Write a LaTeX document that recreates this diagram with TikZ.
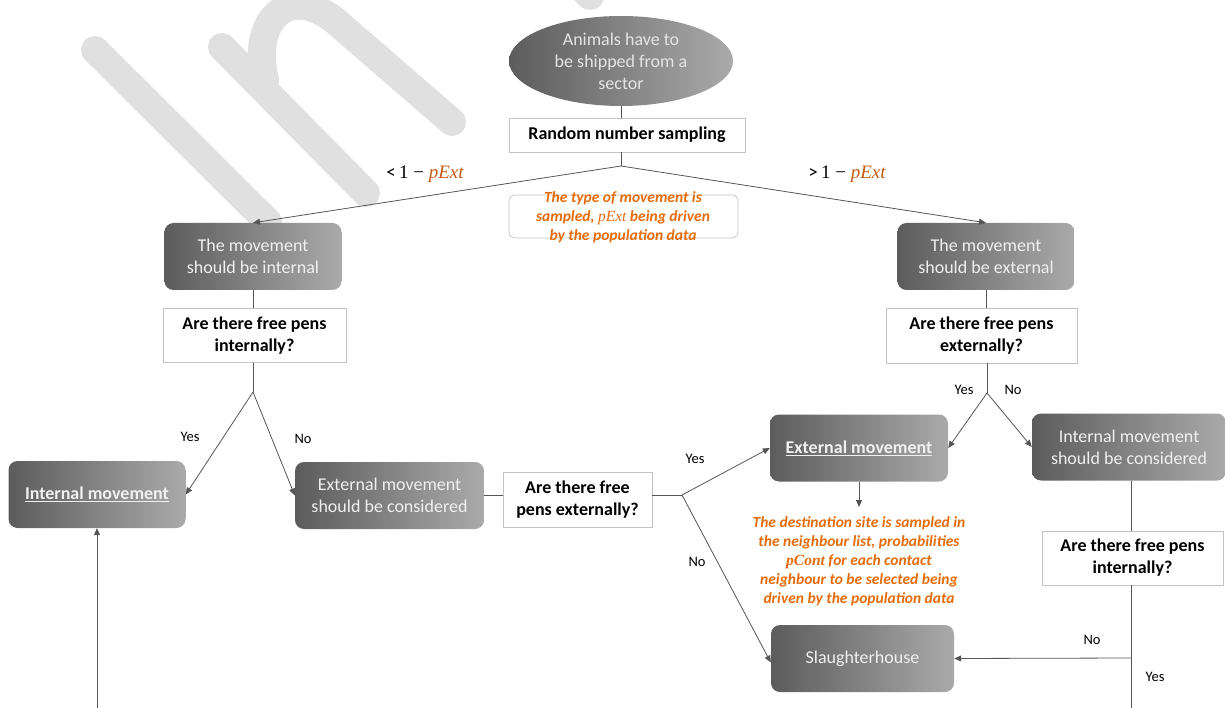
\documentclass[tikz,border=0pt]{standalone}
\usepackage{fontspec}
\setmainfont{Carlito}
\newfontfamily\serifm{Liberation Serif}
\usetikzlibrary{arrows.meta,shapes.geometric}
\definecolor{gdark}{RGB}{92,92,92}
\definecolor{glight}{RGB}{170,170,170}
\definecolor{gtext}{RGB}{240,240,240}
\definecolor{wm}{RGB}{224,224,224}
\definecolor{lineg}{RGB}{85,85,85}
\definecolor{boxline}{RGB}{195,195,195}
\definecolor{orng}{RGB}{228,108,10}
\definecolor{lblor}{RGB}{197,90,17}
\tikzset{
  gbox/.style={rounded corners=9pt, left color=gdark, right color=glight, draw=none,
    text=gtext, font=\fontsize{18}{22}\selectfont, align=center, inner sep=0pt},
  qbox/.style={draw=boxline, line width=0.8pt, fill=white, text=black,
    font=\bfseries\fontsize{18}{22}\selectfont, align=center, inner sep=0pt},
  conn/.style={draw=lineg, line width=0.8pt},
  arr/.style={conn, -{Triangle[length=7pt,width=6pt]}},
  yn/.style={font=\fontsize{14.5}{17}\selectfont, text=black, inner sep=0pt},
  otext/.style={font=\bfseries\itshape\fontsize{15.5}{19}\selectfont, text=orng, align=center, inner sep=0pt},
  wmstroke/.style={draw=wm, line width=28pt, line cap=round, line join=round}
}
\begin{document}
\begin{tikzpicture}[x=1pt,y=-1pt]
\useasboundingbox (0,0) rectangle (1225,708);
% watermark
\draw[wmstroke] (95,50) -- (268,222);
\draw[wmstroke] (222,47) -- (366,193);
\draw[wmstroke] (265,80) .. controls (250,20) and (290,-20) .. (340,25) -- (452,122);
\draw[wmstroke] (562,-32) -- (590,-4);
% nodes
\node[gbox, ellipse, minimum width=224pt, minimum height=90pt, text=gtext!95!black] (start) at (621,61)
  {Animals have to\\be shipped from a\\sector};
\node[qbox, minimum width=236pt, minimum height=34pt] (rns) at (627,135) {Random number sampling};
\coordinate (split) at (621,166);
\node[draw=boxline, line width=0.7pt, rounded corners=6pt, fill=white, minimum width=229pt, minimum height=43pt, inner sep=0pt] (note) at (623.5,216.5) {};
\node[otext] (notet) at (623,217)
  {The type of movement is\\sampled, {\serifm\mdseries\itshape pExt} being driven\\by the population data};
\node[gbox, minimum width=177pt, minimum height=67pt] (intl) at (253,256.5) {The movement\\should be internal};
\node[gbox, minimum width=177pt, minimum height=67pt] (extl) at (986,256.5) {The movement\\should be external};
\node[qbox, minimum width=183pt, minimum height=54pt] (q1) at (254.5,335.5) {Are there free pens\\internally?};
\node[qbox, minimum width=191pt, minimum height=55pt] (q2) at (981.5,335.5) {Are there free pens\\externally?};
\coordinate (j1) at (253,392);
\coordinate (j2) at (987,393);
\node[gbox, minimum width=177pt, minimum height=67pt, font=\bfseries\fontsize{18}{22}\selectfont] (im) at (97,494.5) {\underline{Internal movement}};
\node[gbox, minimum width=189pt, minimum height=67pt] (emc) at (389.5,495.5) {External movement\\should be considered};
\node[qbox, minimum width=149pt, minimum height=55pt] (q3) at (577.5,499.5) {Are there free\\pens externally?};
\coordinate (j3) at (682,495);
\node[gbox, minimum width=178pt, minimum height=67pt, font=\bfseries\fontsize{18}{22}\selectfont] (em) at (859,448) {\underline{External movement}};
\node[gbox, minimum width=194pt, minimum height=67pt] (imc) at (1129,447) {Internal movement\\should be considered};
\node[gbox, minimum width=183pt, minimum height=67pt] (slh) at (862.5,658.5) {Slaughterhouse};
\node[qbox, minimum width=181pt, minimum height=54pt] (q4) at (1132.5,558) {Are there free pens\\internally?};
\coordinate (j4) at (1131,658);
\coordinate (b0) at (97,708);
\coordinate (b1) at (1131,708);
\coordinate (dtip) at (859,507);
\node[otext] (dest) at (859,561)
  {The destination site is sampled in\\the neighbour list, probabilities\\{\serifm\itshape pCont} for each contact\\neighbour to be selected being\\driven by the population data};
% labels
\node[inner sep=0pt, font=\fontsize{19}{22}\selectfont] (lbl1) at (425,174) {<\,{\serifm 1 − }\textcolor{lblor}{\serifm\itshape pExt}};
\node[inner sep=0pt, font=\fontsize{19}{22}\selectfont] (lbl2) at (847,174) {>\,{\serifm 1 − }\textcolor{lblor}{\serifm\itshape pExt}};
\node[yn] at (190,437) {Yes};
\node[yn] at (303,439) {No};
\node[yn] at (695,459) {Yes};
\node[yn] at (697,562) {No};
\node[yn] at (964,390) {Yes};
\node[yn] at (1013,390) {No};
\node[yn] at (1092,640) {No};
\node[yn] at (1155,677) {Yes};
% connectors
\draw[conn] (start.south) -- (start.south |- rns.north);
\draw[conn] (split |- rns.south) -- (split);
\draw[arr] (split) -- (intl.north);
\draw[arr] (split) -- (extl.north);
\draw[conn] (intl.south) -- (q1.north -| intl.south);
\draw[conn] (j1 |- q1.south) -- (j1);
\draw[arr] (j1) -- (im.east);
\draw[arr] (j1) -- (emc.west);
\draw[conn] (emc.east) -- (emc.east -| q3.west);
\draw[conn] (q3.east |- j3) -- (j3);
\draw[arr] (j3) -- (em.west);
\draw[arr] (j3) -- ([yshift=-4pt]slh.west);
\draw[arr] (em.south) -- (dtip);
\draw[conn] (extl.south) -- (extl.south |- q2.north);
\draw[conn] (j2 |- q2.south) -- (j2);
\draw[arr] (j2) -- (em.east);
\draw[arr] (j2) -- (imc.west);
\draw[conn] (j4 |- imc.south) -- (j4 |- q4.north);
\draw[conn] (j4 |- q4.south) -- (b1);
\draw[arr] (j4) -- (slh.east);
\draw[arr] (b0) -- (im.south);
\end{tikzpicture}
\end{document}
